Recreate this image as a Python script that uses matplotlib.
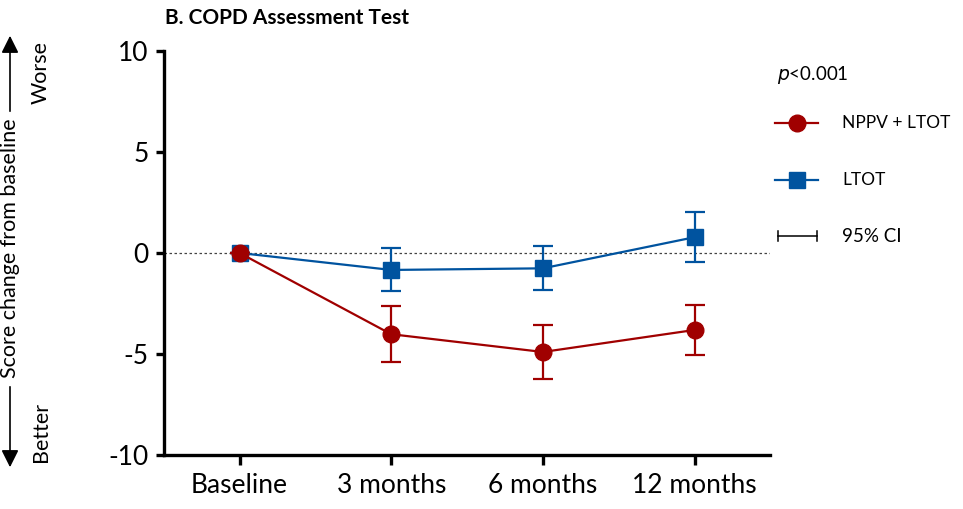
import matplotlib
matplotlib.use('Agg')
import matplotlib.pyplot as plt
from matplotlib.lines import Line2D
import numpy as np

plt.rcParams['font.family'] = ['Lato', 'DejaVu Sans']
plt.rcParams['axes.unicode_minus'] = False

# data
timepoints = ['Baseline', '3 months', '6 months', '12 months']
ltot_mean = [0.0, -0.84, -0.76, 0.78]
ltot_lo = [0.0, -1.88, -1.83, -0.43]
ltot_hi = [0.0, 0.26, 0.36, 2.02]
nppv_mean = [0.0, -4.02, -4.90, -3.81]
nppv_lo = [0.0, -5.41, -6.24, -5.07]
nppv_hi = [0.0, -2.63, -3.58, -2.59]

red = '#A00000'
blue = '#00539F'

fig = plt.figure(figsize=(9.63, 5.09), dpi=100)
ax = fig.add_axes([0.170, 0.106, 0.630, 0.794])

x = np.arange(len(timepoints))
ax.axhline(0, color='#444444', lw=0.9, ls=(0, (2, 2)), zorder=1)

def draw(mean, lo, hi, color, marker, ms):
    mean = np.array(mean)
    yerr = [mean - np.array(lo), np.array(hi) - mean]
    ax.errorbar(x, mean, yerr=yerr, color=color, marker=marker, ms=ms,
                lw=1.6, elinewidth=1.6, capsize=7, capthick=1.6, zorder=3)

draw(ltot_mean, ltot_lo, ltot_hi, blue, 's', 12)
draw(nppv_mean, nppv_lo, nppv_hi, red, 'o', 12)

ax.set_xlim(-0.5, 3.5)
ax.set_ylim(-10, 10)
ax.set_yticks([-10, -5, 0, 5, 10])
ax.set_xticks(x)
ax.set_xticklabels(timepoints)
for s in ['top', 'right']:
    ax.spines[s].set_visible(False)
for s in ['left', 'bottom']:
    ax.spines[s].set_linewidth(2.4)
ax.tick_params(axis='y', length=6, width=2.4, labelsize=19, pad=5)
ax.tick_params(axis='x', length=7, width=2.4, labelsize=19, pad=6)

fig.text(165 / 963, 1 - 18 / 509, 'B. COPD Assessment Test', fontsize=15,
         fontweight='bold', va='center', ha='left')

# left-side annotation
fig.text(10 / 963, 1 - 248 / 509, 'Score change from baseline', rotation=90,
         fontsize=15.5, va='center', ha='center')
fig.text(41 / 963, 1 - 73 / 509, 'Worse', rotation=90, fontsize=15.5,
         va='center', ha='center')
fig.text(41 / 963, 1 - 432 / 509, 'Better', rotation=90, fontsize=15.5,
         va='center', ha='center')
arrowprops = dict(arrowstyle='-|>', color='black', lw=1.2, mutation_scale=26)
fig.add_artist(matplotlib.patches.FancyArrowPatch(
    (10 / 963, 1 - 114 / 509), (10 / 963, 1 - 33 / 509),
    transform=fig.transFigure, **arrowprops))
fig.add_artist(matplotlib.patches.FancyArrowPatch(
    (10 / 963, 1 - 384 / 509), (10 / 963, 1 - 470 / 509),
    transform=fig.transFigure, **arrowprops))

# legend drawn by hand
tf = fig.transFigure
fig.text(777 / 963, 1 - 75 / 509, r'$\it{p}$<0.001', fontsize=13.5,
         va='center', ha='left')
for yy, col, mk, label in [(123, red, 'o', 'NPPV + LTOT'), (180, blue, 's', 'LTOT')]:
    fy = 1 - yy / 509
    fig.add_artist(Line2D([775 / 963, 818 / 963], [fy, fy], color=col, lw=1.6,
                          transform=tf))
    fig.add_artist(Line2D([796.5 / 963], [fy], color=col, marker=mk, ms=12,
                          transform=tf))
    fig.text(842 / 963, fy, label, fontsize=12.5, va='center', ha='left')
fy = 1 - 236 / 509
fig.add_artist(Line2D([778 / 963, 817 / 963], [fy, fy], color='black', lw=1.1,
                      transform=tf))
for xx in [778, 817]:
    fig.add_artist(Line2D([xx / 963, xx / 963], [fy - 5 / 509, fy + 5 / 509],
                          color='black', lw=1.1, transform=tf))
fig.text(842 / 963, fy, '95% CI', fontsize=13.5, va='center', ha='left')

fig.savefig('out.png', dpi=100)
